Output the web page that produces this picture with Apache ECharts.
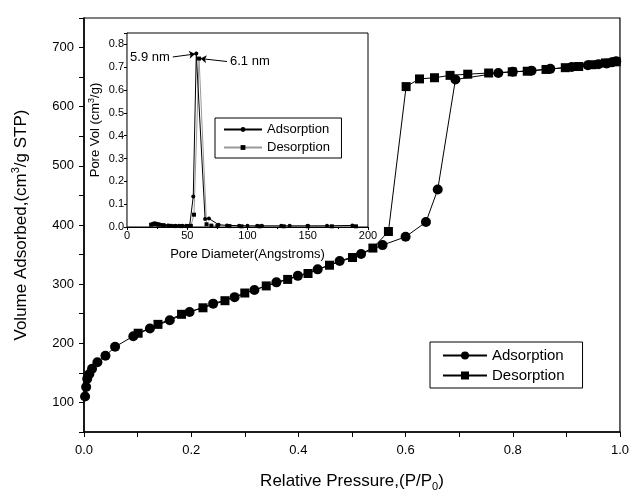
<!DOCTYPE html>
<html>
<head>
<meta charset="utf-8">
<script src="https://cdn.jsdelivr.net/npm/echarts@6/dist/echarts.min.js"></script>
<style>
html,body{margin:0;padding:0;background:#fff;}
#chart{width:632px;height:497px;}
</style>
</head>
<body>
<div id="chart"></div>
<script>
// isotherm, relative pressure vs volume adsorbed
const adsP = [0.002,0.004,0.006,0.010,0.015,0.025,0.040,0.058,0.092,0.123,0.160,0.197,0.241,0.281,0.318,0.359,0.399,0.436,0.477,0.517,0.557,0.600,0.638,0.660,0.693,0.773,0.800,0.835,0.870,0.910,0.940,0.960,0.975,0.985,0.993];
const adsV = [110,126,140,148,157,168,179,194,212,225,239,253,267,278,290,303,314,325,339,351,366,380,405,460,646,657,659,661,664,667,670,672,673,675,677];
const desP = [0.993,0.973,0.948,0.923,0.898,0.862,0.827,0.799,0.755,0.716,0.683,0.654,0.626,0.601,0.568,0.539,0.501,0.458,0.418,0.380,0.340,0.300,0.263,0.222,0.182,0.138,0.101];
const desV = [676,674,671,668,666,663,660,659,657,655,653,649,647,634,389,361,345,332,318,308,297,285,272,260,249,232,217];

// inset, pore size distribution
const poreAdsD = [21,22.5,24,25.5,27,29,31,34,37,40,43,46,49,52,55,57.5,64.8,68,76,83,93,100,108,112,128,135,150,166,187];
const poreAdsV = [0.013,0.016,0.015,0.013,0.011,0.009,0.008,0.007,0.006,0.006,0.005,0.005,0.005,0.006,0.134,0.76,0.035,0.037,0.010,0.007,0.006,0.005,0.005,0.005,0.005,0.005,0.005,0.005,0.007];
const poreDesD = [20,23,26,30,35,40,45,50,53,55.6,59.8,66,70,75,85,95,110,130,150,170,190];
const poreDesV = [0.010,0.012,0.010,0.007,0.005,0.004,0.004,0.004,0.005,0.054,0.738,0.012,0.006,0.004,0.004,0.003,0.003,0.003,0.003,0.003,0.003];

const zip = (a, b) => a.map((v, i) => [v, b[i]]);
const FONT = 'Liberation Sans, Arial, sans-serif';

const chart = echarts.init(document.getElementById('chart'), null, {renderer: 'canvas'});

//主图和插图各一套坐标轴
const option = {
    backgroundColor: '#fff',
    animation: false,
    textStyle: {fontFamily: FONT, color: '#000'},
    grid: [
        {left: 84, right: 12, top: 18, bottom: 56, show: true, borderColor: '#000', borderWidth: 1.2, backgroundColor: 'transparent'},
        {left: 127, right: 264, top: 33, bottom: 270, show: true, borderColor: '#000', borderWidth: 1, backgroundColor: '#fff', z: 3}
    ],
    xAxis: [
        {
            gridIndex: 0, type: 'value', min: 0, max: 1, interval: 0.2,
            name: '{a|Relative Pressure,(P/P}{s|0}{a|)}', nameLocation: 'middle', nameGap: 38,
            nameTextStyle: {rich: {
                a: {fontSize: 17, fontFamily: FONT, color: '#000', lineHeight: 22},
                s: {fontSize: 11, fontFamily: FONT, color: '#000', lineHeight: 10, verticalAlign: 'bottom'}
            }},
            axisLine: {onZero: false, lineStyle: {color: '#000', width: 1.5}},
            axisTick: {inside: false, length: 5, lineStyle: {color: '#000'}},
            minorTick: {show: true, splitNumber: 2, length: 5, lineStyle: {color: '#000'}},
            splitLine: {show: false},
            axisLabel: {fontSize: 13, color: '#000', margin: 12, formatter: v => v.toFixed(1)}
        },
        {
            gridIndex: 1, type: 'value', min: 0, max: 200, interval: 50,
            name: 'Pore Diameter(Angstroms)', nameLocation: 'middle', nameGap: 21,
            nameTextStyle: {fontSize: 13, color: '#000'},
            axisLine: {onZero: false, lineStyle: {color: '#000', width: 1.2}},
            axisTick: {length: 3, lineStyle: {color: '#000'}},
            minorTick: {show: true, splitNumber: 2, length: 2, lineStyle: {color: '#000'}},
            splitLine: {show: false},
            axisLabel: {fontSize: 11, color: '#000', margin: 3}
        }
    ],
    yAxis: [
        {
            gridIndex: 0, type: 'value', min: 50, max: 750, interval: 50,
            name: '{a|Volume Adsorbed,(cm}{p|3}{a|/g STP)}', nameLocation: 'middle', nameGap: 52,
            nameTextStyle: {rich: {
                a: {fontSize: 17, fontFamily: FONT, color: '#000', lineHeight: 22},
                p: {fontSize: 11, fontFamily: FONT, color: '#000', lineHeight: 10, verticalAlign: 'top'}
            }},
            axisLine: {onZero: false, lineStyle: {color: '#000', width: 1.5}},
            axisTick: {length: 5, lineStyle: {color: '#000'}},
            splitLine: {show: false},
            axisLabel: {fontSize: 13, color: '#000', margin: 10, formatter: v => (v % 100 === 0 && v < 750) ? String(v) : ''}
        },
        {
            gridIndex: 1, type: 'value', min: 0, max: 0.85, interval: 0.1,
            name: '{a|Pore Vol (cm}{p|3}{a|/g)}', nameLocation: 'middle', nameGap: 24,
            nameTextStyle: {rich: {
                a: {fontSize: 13, fontFamily: FONT, color: '#000', lineHeight: 16},
                p: {fontSize: 9, fontFamily: FONT, color: '#000', lineHeight: 8, verticalAlign: 'top'}
            }},
            axisLine: {onZero: false, lineStyle: {color: '#000', width: 1.2}},
            axisTick: {length: 3, lineStyle: {color: '#000'}},
            splitLine: {show: false},
            axisLabel: {fontSize: 11, color: '#000', margin: 3, formatter: v => v < 0.801 ? v.toFixed(1) : ''}
        }
    ],
    legend: [
        {
            data: ['Adsorption', 'Desorption'], orient: 'vertical', left: 430, top: 342,
            padding: [6, 18, 5, 12], itemGap: 5, itemWidth: 44, itemHeight: 10,
            borderColor: '#000', borderWidth: 1, backgroundColor: '#fff',
            textStyle: {fontSize: 15, color: '#000', fontFamily: FONT}
        },
        {
            data: ['Adsorption ', 'Desorption '], orient: 'vertical', left: 215, top: 118,
            padding: [5, 8, 4, 8], itemGap: 5, itemWidth: 38, itemHeight: 6,
            borderColor: '#000', borderWidth: 1, backgroundColor: '#fff',
            textStyle: {fontSize: 13, color: '#000', fontFamily: FONT}
        }
    ],
    series: [
        {
            name: 'Desorption', type: 'line', xAxisIndex: 0, yAxisIndex: 0,
            data: zip(desP, desV), symbol: 'rect', symbolSize: 9,
            itemStyle: {color: '#000'}, lineStyle: {color: '#000', width: 1}
        },
        {
            name: 'Adsorption', type: 'line', xAxisIndex: 0, yAxisIndex: 0,
            data: zip(adsP, adsV), symbol: 'circle', symbolSize: 10,
            itemStyle: {color: '#000'}, lineStyle: {color: '#000', width: 1}
        },
        {
            name: 'Desorption ', type: 'line', xAxisIndex: 1, yAxisIndex: 1, z: 4,
            data: zip(poreDesD, poreDesV), symbol: 'rect', symbolSize: 4,
            itemStyle: {color: '#000'}, lineStyle: {color: '#999', width: 1}
        },
        {
            name: 'Adsorption ', type: 'line', xAxisIndex: 1, yAxisIndex: 1, z: 5,
            data: zip(poreAdsD, poreAdsV), symbol: 'circle', symbolSize: 4,
            itemStyle: {color: '#000'}, lineStyle: {color: '#000', width: 1},
            markLine: {
                silent: true, symbol: ['none', 'arrow'], symbolSize: 6, animation: false,
                lineStyle: {color: '#000', width: 1, type: 'solid'},
                label: {show: true, position: 'start', fontSize: 13, color: '#000', fontFamily: FONT, distance: 3},
                data: [
                    [{coord: [38, 0.745], label: {formatter: '5.9 nm'}}, {coord: [56.5, 0.758]}],
                    [{coord: [83, 0.725], label: {formatter: '6.1 nm'}}, {coord: [61, 0.738]}]
                ]
            }
        }
    ]
};
chart.setOption(option);
</script>
</body>
</html>
